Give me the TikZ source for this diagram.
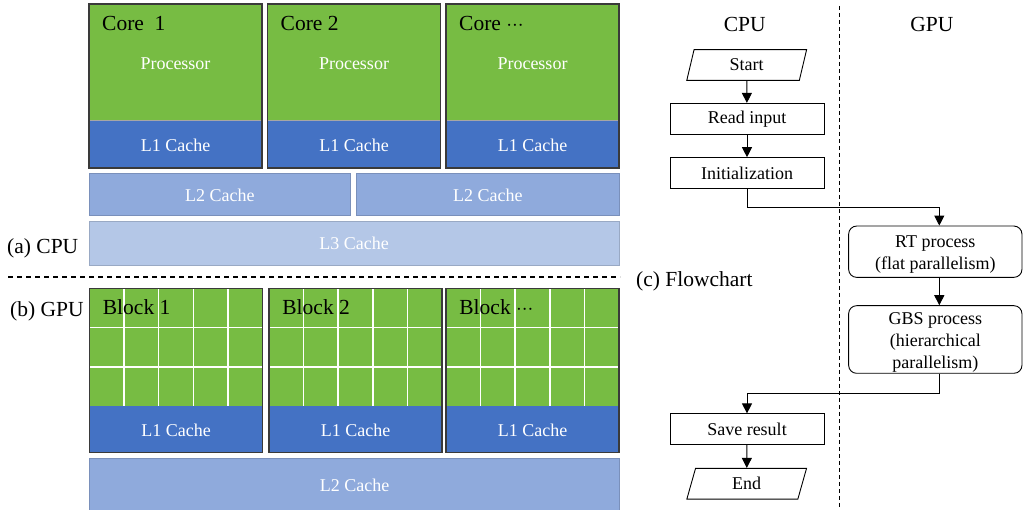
\documentclass[tikz,border=0pt]{standalone}
\usepackage{fontspec}
\setmainfont{Liberation Serif}
\usetikzlibrary{arrows.meta,shapes.geometric}
\definecolor{procgreen}{HTML}{77BC43}
\definecolor{lonecol}{HTML}{4472C4}
\definecolor{ltwocol}{HTML}{8FAADC}
\definecolor{lthreecol}{HTML}{B4C7E7}
\definecolor{unitedge}{HTML}{3A3A3A}

\tikzset{
  txtsmall/.style={font=\fontsize{18}{22}\selectfont},
  txtlarge/.style={font=\fontsize{21.5}{25}\selectfont},
  cachetext/.style={txtsmall, text=white, anchor=base, inner sep=0pt},
  unittitle/.style={txtlarge, anchor=base west, inner sep=0pt},
  caption/.style={txtlarge, anchor=base west, inner sep=0pt},
  unitframe/.style={draw=unitedge, line width=1.4pt},
  cachebar/.style={line width=0.8pt},
  gridline/.style={white, line width=1.5pt},
  flowbox/.style={txtsmall, draw, line width=0.9pt, rectangle, minimum width=154pt, minimum height=30.7pt, inner sep=0pt},
  gpubox/.style={draw, line width=0.9pt, rectangle, rounded corners=8pt, minimum width=173.3pt, inner sep=0pt},
  gputext/.style={txtsmall, align=center, inner sep=0pt},
  iobox/.style={txtsmall, draw, line width=0.9pt, trapezium, trapezium left angle=79, trapezium right angle=101,
                trapezium stretches=true, minimum width=120pt, minimum height=30.7pt, inner sep=0pt},
  arr/.style={line width=0.9pt, -{Triangle[length=10pt,width=10pt]}},
}

\newcommand{\tridots}{${\cdot}{\cdot}{\cdot}$}

\begin{document}
\begin{tikzpicture}[x=1pt,y=-1pt]
\useasboundingbox (0,0) rectangle (1023,510);

% ---------------- (a) CPU ----------------
\foreach \i/\x/\t in {1/89/{Core\ \ 1}, 2/267.5/{Core 2}, 3/446/{Core \tridots}} {
  \fill[procgreen] (\x,4) rectangle ++(173,117);
  \fill[lonecol] (\x,121) rectangle ++(173,47);
  \draw[gray!70, line width=1pt] (\x,121) -- ++(173,0);
  \draw[unitframe] (\x,4) rectangle ++(173,164);
  \node[unittitle] (core\i) at (\x+13,30.7) {\t};
  \node[cachetext] (proc\i) at (\x+86.5,69.3) {Processor};
  \node[cachetext] (cpulone\i) at (\x+86.5,151.7) {L1 Cache};
}
\filldraw[cachebar, fill=ltwocol, draw=ltwocol!85!black] (89,173) rectangle (350.7,215.7);
\filldraw[cachebar, fill=ltwocol, draw=ltwocol!85!black] (356.7,173) rectangle (619,215.7);
\node[cachetext] (cpultwoa) at (219.8,201.7) {L2 Cache};
\node[cachetext] (cpultwob) at (487.8,201.7) {L2 Cache};
\filldraw[cachebar, fill=lthreecol, draw=lthreecol!85!black] (89,221) rectangle (619,265);
\node[cachetext] (cpulthree) at (354,250) {L3 Cache};

\node[caption] (capa) at (7,253.3) {(a) CPU};
\draw[line width=1.2pt, dash pattern=on 5pt off 4pt] (8,277) -- (620,277);
\node[caption] (capb) at (10,316.7) {(b) GPU};

% ---------------- (b) GPU ----------------
\foreach \i/\x/\t in {1/89.5/{Block 1}, 2/269/{Block 2}, 3/446/{Block \tridots}} {
  \fill[procgreen] (\x,288.5) rectangle ++(173,117.5);
  \foreach \c in {1,...,4} \draw[gridline] (\x+\c*34.6,288.5) -- ++(0,117.5);
  \foreach \r in {1,2} \draw[gridline] (\x,288.5+\r*39.2) -- ++(173,0);
  \fill[lonecol] (\x,406) rectangle ++(173,46.5);
  \draw[unitframe] (\x,288.5) rectangle ++(173,164);
  \node[unittitle] (block\i) at (\x+13.2,315) {\t};
  \node[cachetext] (gpulone\i) at (\x+86.5,436.7) {L1 Cache};
}
\filldraw[cachebar, fill=ltwocol, draw=ltwocol!85!black] (89.5,458.3) rectangle (619.5,511);
\node[cachetext] (gpultwo) at (354.5,491.7) {L2 Cache};

% ---------------- (c) Flowchart ----------------
\node[txtlarge, anchor=base, inner sep=0pt] (hcpu) at (744.8,31.7) {CPU};
\node[txtlarge, anchor=base, inner sep=0pt] (hgpu) at (931.8,31.7) {GPU};
\draw[line width=1pt, dash pattern=on 4pt off 3pt] (839,6) -- (839,510);
\node[caption] (capc) at (636,286.7) {(c) Flowchart};

\node[iobox] (start) at (746.7,65) {Start};
\node[flowbox] (read) at (747,118.7) {Read input};
\node[flowbox] (init) at (747,173) {Initialization};
\node[gpubox, minimum height=51.3pt] (rt) at (935.3,251.7) {};
\node[gputext] (rttext) at ([yshift=-3pt]rt.center) {RT process\\(flat parallelism)};
\node[gpubox, minimum height=67.6pt] (gbs) at (935.3,339.5) {};
\node[gputext] (gbstext) at ([yshift=-3pt]gbs.center) {GBS process\\(hierarchical\\parallelism)};
\node[flowbox] (save) at (747,429.2) {Save result};
\node[iobox] (end) at (746.7,483.7) {End};

\draw[arr] (start) -- (read);
\draw[arr] (read) -- (init);
\draw[arr] (init.south) -- ++(0,18.4) -| ([xshift=4pt]rt.north);
\draw[arr] ([xshift=4pt]rt.south) -- ([xshift=4pt]gbs.north);
\draw[arr] ([xshift=4pt]gbs.south) -- ++(0,20) -| (save.north);
\draw[arr] (save) -- (end);
\end{tikzpicture}
\end{document}
